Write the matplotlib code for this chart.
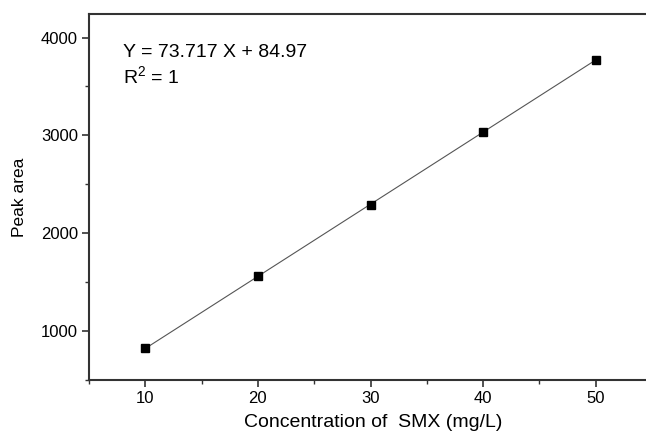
import numpy as np
import matplotlib.pyplot as plt
from matplotlib.ticker import MultipleLocator

plt.rcParams['font.family'] = ['Liberation Sans', 'DejaVu Sans']

# calibration standards
conc = [10, 20, 30, 40, 50]
peak_area = [827, 1561, 2292, 3038, 3768]

# linear fit reported on the plot
slope = 73.717
intercept = 84.97
r2 = 1

fig = plt.figure(figsize=(6.46, 4.32), dpi=100)
ax = fig.add_axes([0.1378, 0.1204, 0.8715, 0.847])

xfit = np.array([conc[0], conc[-1]])
ax.plot(xfit, slope * xfit + intercept, color='#555555', lw=0.8, zorder=2)
ax.plot(conc, peak_area, 's', color='black', ms=6, zorder=3)

ax.set_xlim(5, 55)
ax.set_ylim(500, 4240)
ax.xaxis.set_major_locator(MultipleLocator(10))
ax.xaxis.set_minor_locator(MultipleLocator(5))
ax.yaxis.set_major_locator(MultipleLocator(1000))
ax.yaxis.set_minor_locator(MultipleLocator(500))

for s in ax.spines.values():
    s.set_linewidth(1.5)
    s.set_color('#333333')

ax.tick_params(which='major', direction='out', length=5, width=1.2, labelsize=12,
               colors='#333333', labelcolor='black', pad=3)
ax.tick_params(which='minor', direction='out', length=3, width=1.0, colors='#333333')
ax.tick_params(top=False, right=False, which='both')

ax.set_xlabel('Concentration of  SMX (mg/L)', fontsize=14)
ax.xaxis.set_label_coords(0.504, -0.094)
ax.set_ylabel('Peak area', fontsize=12.5)
ax.yaxis.set_label_coords(-0.11, 0.5)

ax.text(0.061, 0.896, f'Y = {slope} X + {intercept}', transform=ax.transAxes,
        fontsize=14, va='center', ha='left')
ax.text(0.061, 0.828, 'R$^{\\mathregular{2}}$ = %d' % r2, transform=ax.transAxes,
        fontsize=14, va='center', ha='left')

fig.savefig('out.png', dpi=100)
